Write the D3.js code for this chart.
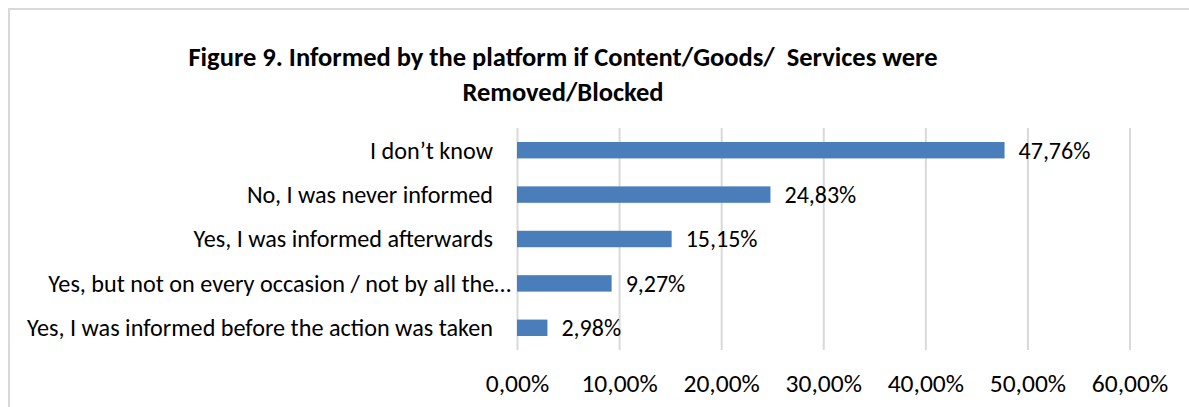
<!DOCTYPE html>
<html>
<head>
<meta charset="utf-8">
<script src="https://cdn.jsdelivr.net/npm/d3@7"></script>
<style>
  html, body { margin: 0; padding: 0; background: #fff; }
  svg { display: block; }
  text { font-family: Calibri, Carlito, Lato, "Open Sans", sans-serif; fill: #000; }
</style>
</head>
<body>
<svg id="chart" width="1189" height="407"></svg>
<script>
const titleLines = ["Figure 9. Informed by the platform if Content/Goods/  Services were", "Removed/Blocked"];
const categories = [
  "I don\u2019t know",
  "No, I was never informed",
  "Yes, I was informed afterwards",
  "Yes, but not on every occasion / not by all the\u2026",
  "Yes, I was informed before the action was taken"
];
const values = [47.76, 24.83, 15.15, 9.27, 2.98];
const xTicks = [0, 10, 20, 30, 40, 50, 60];

const W = 1189, H = 407;
const margin = { left: 517, right: 60, top: 128, bottom: 57 };
const svg = d3.select("#chart");

svg.append("rect").attr("x", 0).attr("y", 0).attr("width", W).attr("height", H).attr("fill", "#fff");
svg.append("rect").attr("x", 9).attr("y", 9).attr("width", W + 10).attr("height", H + 10)
  .attr("fill", "none").attr("stroke", "#d9d9d9").attr("stroke-width", 2);

const x = d3.scaleLinear().domain([0, 60]).range([margin.left, 1129.5]);
const y = d3.scaleBand().domain(categories).range([margin.top, H - margin.bottom]).paddingInner(0.63).paddingOuter(0.315);

const fmt = v => d3.format(".2f")(v).replace(".", ",") + "%";

// gridlines + x-axis labels
const xAxis = svg.append("g").attr("transform", `translate(0,${H - margin.bottom})`)
  .call(d3.axisBottom(x).tickValues(xTicks).tickFormat(fmt).tickSize(-(H - margin.bottom - margin.top)).tickPadding(0));
xAxis.select(".domain").remove();
xAxis.selectAll(".tick line").attr("stroke", "#d9d9d9").attr("stroke-width", 2);
xAxis.selectAll(".tick text").attr("font-size", 25.5).attr("fill", "#000")
  .attr("y", 33).attr("dy", "0.35em")
  .style("font-family", 'Calibri, Carlito, Lato, "Open Sans", sans-serif');

// bars
svg.append("g").selectAll("rect").data(values).join("rect")
  .attr("x", x(0))
  .attr("y", (d, i) => y(categories[i]))
  .attr("width", d => x(d) - x(0))
  .attr("height", y.bandwidth())
  .attr("fill", "#4a7ebb");

// value labels
svg.append("g").selectAll("text").data(values).join("text")
  .attr("x", d => x(d) + 14)
  .attr("y", (d, i) => y(categories[i]) + y.bandwidth() / 2)
  .attr("dy", "0.35em")
  .attr("font-size", 24)
  .text(fmt);

// category labels
svg.append("g").selectAll("text").data(categories).join("text")
  .attr("x", d => d.endsWith("\u2026") ? 511 : 493)
  .attr("y", d => y(d) + y.bandwidth() / 2)
  .attr("dy", "0.35em")
  .attr("text-anchor", "end")
  .attr("font-size", 24.2)
  .text(d => d);

// title
svg.append("g").selectAll("text").data(titleLines).join("text")
  .attr("x", 563)
  .attr("y", (d, i) => 66 + i * 35)
  .attr("text-anchor", "middle")
  .attr("font-size", 26.5)
  .attr("font-weight", "bold")
  .style("white-space", "pre")
  .text(d => d);
</script>
</body>
</html>
